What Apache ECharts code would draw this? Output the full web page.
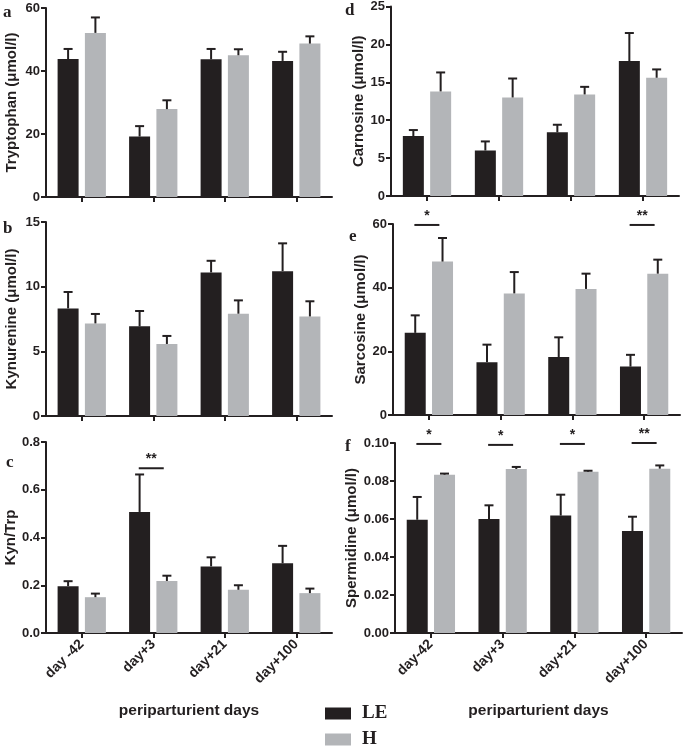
<!DOCTYPE html>
<html>
<head>
<meta charset="utf-8">
<script src="https://cdn.jsdelivr.net/npm/echarts@6/dist/echarts.min.js"></script>
<style>html,body{margin:0;padding:0;background:#fff}#c{width:685px;height:747px}</style>
</head>
<body>
<div id="c"></div>
<script>
// ---- data ----
const categoriesLeft = ['day -42', 'day+3', 'day+21', 'day+100'];
const categoriesRight = ['day-42', 'day+3', 'day+21', 'day+100'];
const seriesNames = ['LE', 'H'];

const trpLE = [43.8, 19.2, 43.7, 43.2];
const trpLEerr = [3.2, 3.3, 3.3, 2.9];
const trpH = [52.1, 27.9, 45.0, 48.7];
const trpHerr = [4.9, 2.8, 1.9, 2.3];

const kynLE = [8.32, 6.93, 11.1, 11.2];
const kynLEerr = [1.27, 1.19, 0.9, 2.15];
const kynH = [7.16, 5.57, 7.91, 7.7];
const kynHerr = [0.73, 0.62, 1.03, 1.17];

const ratioLE = [0.196, 0.507, 0.279, 0.292];
const ratioLEerr = [0.021, 0.157, 0.038, 0.073];
const ratioH = [0.15, 0.218, 0.181, 0.167];
const ratioHerr = [0.015, 0.022, 0.019, 0.019];

const carLE = [7.9, 6.0, 8.4, 17.8];
const carLEerr = [0.8, 1.2, 1.0, 3.7];
const carH = [13.8, 13.0, 13.4, 15.6];
const carHerr = [2.5, 2.5, 1.0, 1.1];

const sarLE = [25.8, 16.6, 18.2, 15.2];
const sarLEerr = [5.5, 5.5, 6.2, 3.7];
const sarH = [48.2, 38.2, 39.6, 44.4];
const sarHerr = [7.4, 6.7, 4.8, 4.4];

const speLE = [0.0596, 0.0600, 0.0618, 0.0537];
const speLEerr = [0.0120, 0.0072, 0.0110, 0.0075];
const speH = [0.0833, 0.0863, 0.0849, 0.0865];
const speHerr = [0.0006, 0.0011, 0.0005, 0.0017];

// significance: [category index, label, y value of bracket]
const sigC = [[1, '**', 0.69]];
const sigE = [[0, '*', 59.7], [3, '**', 59.7]];
const sigF = [[0, '*', 0.0995], [1, '*', 0.099], [2, '*', 0.0995], [3, '**', 0.1]];

const yNames = ['Tryptophan (μmol/l)', 'Kynurenine (μmol/l)', 'Kyn/Trp', 'Carnosine (μmol/l)', 'Sarcosine (μmol/l)', 'Spermidine (μmol/l)'];
const yMax = [60, 15, 0.8, 25, 60, 0.10];
const yInterval = [20, 5, 0.2, 5, 20, 0.02];
const yDecimals = [0, 0, 1, 0, 0, 2];
const panelLetters = ['a', 'b', 'c', 'd', 'e', 'f'];

// ---- layout / style ----
const INK = '#231f20';
const GREY = '#b3b5b8';
const BAR_W = 21;
const BAR_GAP = 0.3;
const OFFSET = BAR_W * (1 + BAR_GAP) / 2;
const FONT = 'Liberation Sans, Arial, sans-serif';
const SERIF = 'Liberation Serif, Times New Roman, serif';

const grids = [
  {left: 46, top: 8, width: 286, height: 189},
  {left: 46, top: 222, width: 286, height: 194},
  {left: 46, top: 442, width: 286, height: 191},
  {left: 391, top: 6, width: 288, height: 190},
  {left: 393, top: 224, width: 287, height: 191},
  {left: 395, top: 443, width: 287, height: 190}
];
const letterPos = [[3, 4], [3, 220], [6, 454], [345, 2], [349, 228], [345, 438]];

const panels = [
  [trpLE, trpLEerr, trpH, trpHerr, null],
  [kynLE, kynLEerr, kynH, kynHerr, null],
  [ratioLE, ratioLEerr, ratioH, ratioHerr, sigC],
  [carLE, carLEerr, carH, carHerr, null],
  [sarLE, sarLEerr, sarH, sarHerr, sigE],
  [speLE, speLEerr, speH, speHerr, sigF]
];

function errRender(offset) {
  return function (params, api) {
    const c = api.coord([api.value(0), api.value(1)]);
    const t = api.coord([api.value(0), api.value(2)]);
    const x = c[0] + offset;
    const st = {stroke: INK, lineWidth: 2};
    return {type: 'group', children: [
      {type: 'line', shape: {x1: x, y1: c[1], x2: x, y2: t[1]}, style: st},
      {type: 'line', shape: {x1: x - 4.5, y1: t[1], x2: x + 4.5, y2: t[1]}, style: st}
    ]};
  };
}
const sigLabels = {};
function sigRender(params, api) {
  const p = api.coord([api.value(0), api.value(2)]);
  const x = p[0] - 2;
  const y = p[1];
  const label = sigLabels[params.seriesIndex][params.dataIndex];
  return {type: 'group', children: [
    {type: 'line', shape: {x1: x - 12.5, y1: y, x2: x + 12.5, y2: y}, style: {stroke: INK, lineWidth: 2}},
    {type: 'text', x: x, y: y - 2, style: {text: label, fill: INK, font: 'bold 14px ' + FONT, align: 'center', verticalAlign: 'bottom'}}
  ]};
}

const xAxes = [], yAxes = [], series = [];
panels.forEach(function (pd, i) {
  const isBottom = (i === 2 || i === 5);
  const cats = i < 3 ? categoriesLeft : categoriesRight;
  xAxes.push({
    type: 'category', gridIndex: i, data: cats,
    axisLine: {lineStyle: {color: INK, width: 2}},
    axisTick: {show: true, alignWithLabel: true, length: 5, lineStyle: {color: INK, width: 2}},
    axisLabel: {show: isBottom, rotate: 45, margin: 9, color: INK, fontFamily: FONT, fontWeight: 'bold', fontSize: 14, interval: 0},
    name: isBottom ? 'periparturient days' : '',
    nameLocation: 'middle', nameGap: 70,
    nameTextStyle: {color: INK, fontFamily: FONT, fontWeight: 'bold', fontSize: 15.5}
  });
  const dec = yDecimals[i];
  yAxes.push({
    type: 'value', gridIndex: i, min: 0, max: yMax[i], interval: yInterval[i],
    splitLine: {show: false},
    axisLine: {show: true, lineStyle: {color: INK, width: 2}},
    axisTick: {show: true, length: 5, lineStyle: {color: INK, width: 2}},
    axisLabel: {color: INK, fontFamily: FONT, fontWeight: 'bold', fontSize: 13, margin: 6,
      formatter: function (v) { return v.toFixed(dec); }},
    name: yNames[i], nameLocation: 'middle', nameGap: i < 3 ? 27 : 25, nameRotate: 90,
    nameTextStyle: {color: INK, fontFamily: FONT, fontWeight: 'bold', fontSize: 15}
  });
  const [le, leErr, h, hErr, sig] = pd;
  series.push({
    name: 'LE', type: 'bar', xAxisIndex: i, yAxisIndex: i, data: le,
    barWidth: BAR_W, barGap: (BAR_GAP * 100) + '%', itemStyle: {color: INK}, z: 2
  });
  series.push({
    name: 'H', type: 'bar', xAxisIndex: i, yAxisIndex: i, data: h,
    barWidth: BAR_W, barGap: (BAR_GAP * 100) + '%', itemStyle: {color: GREY}, z: 2
  });
  series.push({
    type: 'custom', xAxisIndex: i, yAxisIndex: i, z: 3, clip: false, silent: true,
    renderItem: errRender(-OFFSET),
    data: le.map(function (v, k) { return [k, v, v + leErr[k]]; })
  });
  series.push({
    type: 'custom', xAxisIndex: i, yAxisIndex: i, z: 3, clip: false, silent: true,
    renderItem: errRender(OFFSET),
    data: h.map(function (v, k) { return [k, v, v + hErr[k]]; })
  });
  if (sig) {
    sigLabels[series.length] = sig.map(function (s) { return s[1]; });
    series.push({
      type: 'custom', xAxisIndex: i, yAxisIndex: i, z: 3, clip: false, silent: true,
      renderItem: sigRender,
      data: sig.map(function (s) { return [s[0], 0, s[2]]; })
    });
  }
});

const graphics = panelLetters.map(function (l, i) {
  return {type: 'text', left: letterPos[i][0], top: letterPos[i][1],
    style: {text: l, fill: INK, font: 'bold 17px ' + SERIF}};
});

function legendFor(name, top) {
  return {
    data: [name], orient: 'vertical', left: 325, top: top, padding: 0,
    icon: 'rect', itemWidth: 26, itemHeight: 12,
    textStyle: {color: INK, fontFamily: SERIF, fontWeight: 'bold', fontSize: 19, padding: [0, 0, 0, 6]},
    selectedMode: false
  };
}

const chart = echarts.init(document.getElementById('c'), null, {renderer: 'canvas'});
chart.setOption({
  animation: false,
  backgroundColor: '#fff',
  grid: grids,
  xAxis: xAxes,
  yAxis: yAxes,
  legend: [legendFor(seriesNames[0], 704), legendFor(seriesNames[1], 730)],
  graphic: graphics,
  series: series
});
</script>
</body>
</html>
